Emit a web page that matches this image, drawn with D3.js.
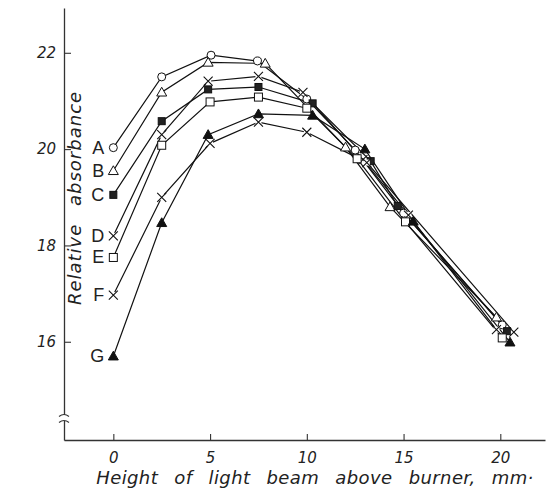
<!DOCTYPE html>
<html>
<head>
<meta charset="utf-8">
<script src="https://cdn.jsdelivr.net/npm/d3@7"></script>
<style>
    body { margin: 0; background: #fff; }
    svg { display: block; }
    text { font-family: "DejaVu Sans", sans-serif; fill: #222; }
    .axis-title { font-style: italic; font-size: 18px; letter-spacing: 0.4px; word-spacing: 10px; }
    .y-title { font-size: 18px; letter-spacing: 1px; word-spacing: 11px; }
    .series-label { font-family: "Liberation Sans", sans-serif; font-size: 18px; }
</style>
</head>
<body>
<svg class="chart" width="551" height="503"></svg>
<script>
    // values (x = height in mm, y = relative absorbance)
    var seriesNames = ["A", "B", "C", "D", "E", "F", "G"];
    var markers = ["circle", "triangle", "filledSquare", "cross", "square", "cross", "filledTriangle"];

    var xA = [0, 2.5, 5.05, 7.45, 10.0, 12.5, 15.0, 20.1];
    var yA = [20.03, 21.5, 21.95, 21.83, 21.04, 19.98, 18.67, 16.35];
    var xB = [0, 2.5, 4.9, 7.85, 12.0, 14.3, 19.8];
    var yB = [19.55, 21.18, 21.8, 21.78, 20.04, 18.8, 16.51];
    var xC = [0, 2.5, 4.9, 7.5, 10.3, 13.3, 14.7, 20.35];
    var yC = [19.05, 20.58, 21.24, 21.29, 20.95, 19.75, 18.82, 16.22];
    var xD = [0, 2.5, 4.9, 7.5, 9.8, 12.9, 15.25, 19.8];
    var yD = [18.2, 20.3, 21.41, 21.51, 21.18, 19.78, 18.63, 16.25];
    var xE = [0, 2.5, 5.0, 7.5, 10.0, 12.6, 15.1, 20.1];
    var yE = [17.75, 20.08, 20.98, 21.08, 20.85, 19.8, 18.49, 16.08];
    var xF = [0, 2.5, 5.0, 7.5, 10.0, 13.1, 20.7];
    var yF = [16.97, 19.0, 20.12, 20.56, 20.35, 19.72, 16.2];
    var xG = [0, 2.5, 4.9, 7.5, 10.3, 13.0, 15.5, 20.5];
    var yG = [15.7, 18.47, 20.3, 20.73, 20.7, 20.0, 18.5, 15.99];

    var xTicks = [0, 5, 10, 15, 20];
    var yTicks = [16, 18, 20, 22];
    var xTitle = "Height of light beam above burner, mm·";
    var yTitle = "Relative absorbance";

    var allX = [xA, xB, xC, xD, xE, xF, xG];
    var allY = [yA, yB, yC, yD, yE, yF, yG];

    var svg = d3.select(".chart");

    var xScale = d3.scaleLinear().domain([-2.55, 22.31]).range([64, 545]);
    var yScale = d3.scaleLinear().domain([13.96, 22.93]).range([440, 8]);

    // axes
    var xAxis = d3.axisBottom(xScale).tickValues(xTicks).tickSizeInner(-6).tickSizeOuter(0).tickPadding(12);
    var yAxis = d3.axisLeft(yScale).tickValues(yTicks).tickSizeInner(-7).tickSizeOuter(0).tickPadding(8);

    var gx = svg.append("g").attr("transform", "translate(0,440)").call(xAxis);
    var gy = svg.append("g").attr("transform", "translate(64,0)").call(yAxis);

    [gx, gy].forEach(function (g) {
        g.select(".domain").attr("stroke", "#333").attr("stroke-width", 1.3);
        g.selectAll(".tick line").attr("stroke", "#333").attr("stroke-width", 1.1);
        g.selectAll(".tick text").attr("fill", "#222")
            .style("font-size", "15px").style("font-style", "italic")
            .style("font-family", "'DejaVu Sans', sans-serif");
    });

    // break mark on the y axis
    var brk = svg.append("g").attr("transform", "translate(64,418)");
    brk.append("rect").attr("x", -2).attr("y", -3).attr("width", 4).attr("height", 6).attr("fill", "#fff");
    [-3, 3].forEach(function (dy) {
        brk.append("path")
            .attr("d", "M-5," + (dy + 1.5) + " Q0," + (dy - 2.5) + " 5," + (dy + 1.5))
            .attr("fill", "none").attr("stroke", "#333").attr("stroke-width", 1.1);
    });

    // titles
    svg.append("text").attr("class", "axis-title")
        .attr("x", 315).attr("y", 484).attr("text-anchor", "middle")
        .text(xTitle);
    svg.append("text").attr("class", "axis-title y-title")
        .attr("transform", "translate(81,198) rotate(-90)").attr("text-anchor", "middle")
        .text(yTitle);

    var line = d3.line()
        .x(function (d) { return xScale(d[0]); })
        .y(function (d) { return yScale(d[1]); });

    function drawMarker(g, type, px, py) {
        if (type === "circle") {
            g.append("circle").attr("cx", px).attr("cy", py).attr("r", 4)
                .attr("fill", "#fff").attr("stroke", "#111").attr("stroke-width", 1);
        } else if (type === "triangle" || type === "filledTriangle") {
            var s = 5;
            g.append("path")
                .attr("d", "M" + px + "," + (py - s) + " L" + (px + s) + "," + (py + s * 0.75) + " L" + (px - s) + "," + (py + s * 0.75) + " Z")
                .attr("fill", type === "triangle" ? "#fff" : "#111")
                .attr("stroke", "#111").attr("stroke-width", 1);
        } else if (type === "square" || type === "filledSquare") {
            var h = type === "square" ? 4 : 3.5;
            g.append("rect").attr("x", px - h).attr("y", py - h).attr("width", h * 2).attr("height", h * 2)
                .attr("fill", type === "square" ? "#fff" : "#222")
                .attr("stroke", "#111").attr("stroke-width", 1);
        } else if (type === "cross") {
            var c = 4.5;
            g.append("rect").attr("x", px - 3).attr("y", py - 3).attr("width", 6).attr("height", 6).attr("fill", "#fff");
            g.append("path")
                .attr("d", "M" + (px - c) + "," + (py - c) + " L" + (px + c) + "," + (py + c) +
                    " M" + (px - c) + "," + (py + c) + " L" + (px + c) + "," + (py - c))
                .attr("stroke", "#111").attr("stroke-width", 1.1);
        }
    }

    // lines first, then markers on top
    for (var i = 0; i < seriesNames.length; i++) {
        var pts = allX[i].map(function (x, j) { return [x, allY[i][j]]; });
        svg.append("path").datum(pts)
            .attr("d", line)
            .attr("fill", "none").attr("stroke", "#111").attr("stroke-width", 1.2);
    }

    for (var k = 0; k < seriesNames.length; k++) {
        var g = svg.append("g");
        for (var m = 0; m < allX[k].length; m++) {
            drawMarker(g, markers[k], xScale(allX[k][m]), yScale(allY[k][m]));
        }
        svg.append("text").attr("class", "series-label")
            .attr("x", xScale(allX[k][0]) - 9).attr("y", yScale(allY[k][0]) + 6)
            .attr("text-anchor", "end")
            .text(seriesNames[k]);
    }
</script>
</body>
</html>
